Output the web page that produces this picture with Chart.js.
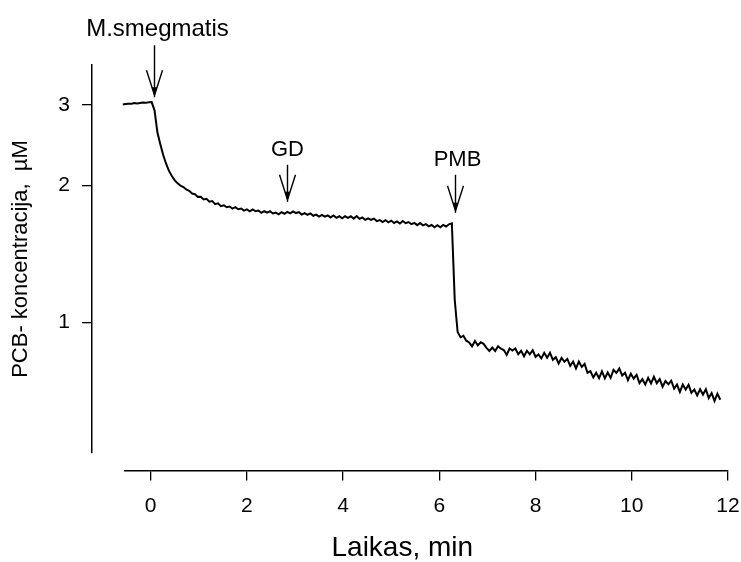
<!DOCTYPE html>
<html>
<head>
<meta charset="utf-8">
<script src="https://cdn.jsdelivr.net/npm/chart.js@4.4.0/dist/chart.umd.min.js"></script>
<style>
  html, body { margin: 0; padding: 0; background: #fff; }
</style>
</head>
<body>
<canvas id="pcbChart" width="741" height="562"></canvas>
<script>
// recording sampled every 0.06 min, first sample at -0.76 min
const startTime = -0.76;
const sampleStep = 0.06;

// PCB- concentration (uM) before M.smegmatis
const pcbBaseline = [2.995, 3.002, 3.010, 3.006, 3.015, 3.020, 3.018, 3.028, 3.024, 3.030,
  3.036, 3.032, 3.040, 3.044];

// after M.smegmatis is added (GD added at ~2.8 min)
const pcbCells = [2.92, 2.61, 2.46, 2.33, 2.23, 2.15, 2.095, 2.05, 2.02, 1.995,
  1.982, 1.958, 1.945, 1.918, 1.912, 1.886, 1.888, 1.862, 1.868, 1.840,
  1.846, 1.818, 1.826, 1.800, 1.808, 1.790,
  1.796, 1.778, 1.790, 1.772, 1.778, 1.759, 1.770, 1.754, 1.771, 1.754,
  1.760, 1.740, 1.754, 1.742, 1.754, 1.734, 1.742, 1.727, 1.746, 1.732,
  1.749, 1.736, 1.753, 1.738, 1.746, 1.725, 1.738, 1.723, 1.735, 1.714,
  1.724, 1.707, 1.722, 1.707, 1.718, 1.700, 1.717, 1.697, 1.710, 1.693,
  1.710, 1.697, 1.710, 1.690, 1.712, 1.688, 1.700, 1.679, 1.692, 1.679,
  1.690, 1.669, 1.678, 1.661, 1.676, 1.659, 1.673, 1.653, 1.666, 1.648,
  1.669, 1.651, 1.661, 1.643, 1.654, 1.635, 1.652, 1.633, 1.644, 1.625,
  1.636, 1.618, 1.634, 1.618, 1.637, 1.624, 1.642, 1.650];

// after PMB
const pcbPmb = [1.12, 0.953, 0.928,
  0.935, 0.912, 0.904, 0.886, 0.911, 0.891, 0.905, 0.898, 0.880, 0.866,
  0.881, 0.866, 0.887, 0.876, 0.870, 0.849, 0.877, 0.868, 0.877, 0.852,
  0.867, 0.843, 0.867, 0.851, 0.869, 0.841, 0.851, 0.834, 0.858, 0.837,
  0.858, 0.828, 0.839, 0.813, 0.836, 0.820, 0.832, 0.803, 0.821, 0.793,
  0.821, 0.799, 0.811, 0.776, 0.782, 0.758, 0.776, 0.755, 0.781, 0.754,
  0.777, 0.756, 0.787, 0.775, 0.793, 0.765, 0.776, 0.747, 0.772, 0.753,
  0.768, 0.736, 0.751, 0.731, 0.756, 0.735, 0.760, 0.736, 0.751, 0.723,
  0.744, 0.732, 0.745, 0.716, 0.731, 0.704, 0.731, 0.713, 0.730, 0.701,
  0.713, 0.692, 0.714, 0.695, 0.714, 0.683, 0.700, 0.673, 0.698, 0.677];

const xTicks = [0, 2, 4, 6, 8, 10, 12];
const yTicks = [1, 2, 3];

// additions marked with arrows: label, time (min), concentration at arrow tip
const markerLabels = ['M.smegmatis', 'GD', 'PMB'];
const markerTimes = [0.07, 2.83, 6.32];
const markerTips = [3.12, 1.84, 1.74];

const FONT = '"Liberation Sans", Arial, sans-serif';
const arrowStyle = { shaft: [52, 37, 38], size: [24, 22, 22], shift: [3, 0, 2] };

const trace = pcbBaseline.concat(pcbCells, pcbPmb).map((c, i) => ({
  x: +(startTime + i * sampleStep).toFixed(2),
  y: c
}));

const arrowPlugin = {
  id: 'additionArrows',
  afterDatasetsDraw(chart) {
    const { ctx, scales: { x, y } } = chart;
    ctx.save();
    ctx.strokeStyle = '#000';
    ctx.fillStyle = '#000';
    ctx.lineWidth = 1.4;
    markerLabels.forEach((label, i) => {
      const px = Math.round(x.getPixelForValue(markerTimes[i])) + 0.5;
      const tip = y.getPixelForValue(markerTips[i]);
      const top = tip - arrowStyle.shaft[i];
      ctx.beginPath();
      ctx.moveTo(px, top);
      ctx.lineTo(px, tip);
      ctx.moveTo(px - 8, tip - 27);
      ctx.lineTo(px, tip - 2);
      ctx.moveTo(px + 8, tip - 27);
      ctx.lineTo(px, tip - 2);
      ctx.stroke();
      ctx.beginPath();
      ctx.moveTo(px - 2.5, tip - 10);
      ctx.lineTo(px + 2.5, tip - 10);
      ctx.lineTo(px, tip);
      ctx.closePath();
      ctx.fill();
      ctx.font = arrowStyle.size[i] + 'px ' + FONT;
      ctx.textAlign = 'center';
      ctx.textBaseline = 'alphabetic';
      ctx.fillText(label, px + arrowStyle.shift[i], top - 9);
    });
    // x axis title, placed under the axis as in the original figure
    ctx.font = '28px ' + FONT;
    ctx.textAlign = 'center';
    ctx.textBaseline = 'middle';
    ctx.fillText('Laikas, min', x.getPixelForValue(5.23), 548);
    ctx.restore();
  }
};

Chart.defaults.color = '#000';
Chart.defaults.font.family = FONT;

new Chart(document.getElementById('pcbChart'), {
  type: 'line',
  data: {
    datasets: [{
      data: trace,
      borderColor: '#000',
      borderWidth: 2,
      pointRadius: 0,
      tension: 0,
      clip: false
    }]
  },
  options: {
    responsive: false,
    animation: false,
    layout: { padding: { left: 0, right: 13, top: 65, bottom: 0 } },
    plugins: { legend: { display: false }, tooltip: { enabled: false } },
    scales: {
      x: {
        type: 'linear',
        position: 'bottom',
        weight: 1,
        min: -0.534,
        max: 12,
        bounds: 'data',
        afterBuildTicks: s => { s.ticks = xTicks.map(v => ({ value: v })); },
        afterFit: s => { s.height = 91.5; s.paddingLeft = 0; s.paddingRight = 0; },
        grid: { drawOnChartArea: false, tickLength: 10, color: '#000', lineWidth: 1.3 },
        border: { color: '#000', width: 1.5 },
        ticks: { font: { size: 21 }, padding: 13, maxRotation: 0 }
      },
      xGap: {
        type: 'linear',
        axis: 'x',
        position: 'bottom',
        weight: 0,
        afterFit: s => { s.height = 17.5; s.paddingLeft = 0; s.paddingRight = 0; },
        grid: { display: false, drawTicks: false },
        border: { display: false },
        ticks: { display: false }
      },
      y: {
        type: 'logarithmic',
        position: 'left',
        weight: 1,
        min: 0.5173,
        max: 3.671,
        bounds: 'data',
        afterBuildTicks: s => { s.ticks = yTicks.map(v => ({ value: v })); },
        afterFit: s => { s.width = 92; s.paddingTop = 0; s.paddingBottom = 0; },
        grid: { drawOnChartArea: false, tickLength: 10, color: '#000', lineWidth: 1.3 },
        border: { color: '#000', width: 1.5 },
        ticks: { font: { size: 21 }, padding: 12, callback: v => String(v) },
        title: {
          display: true,
          text: 'PCB- koncentracija,  µM',
          font: { size: 22 },
          padding: { top: 8, bottom: 0 }
        }
      },
      yGap: {
        type: 'linear',
        axis: 'y',
        position: 'left',
        weight: 0,
        afterFit: s => { s.width = 33; s.paddingTop = 0; s.paddingBottom = 0; },
        grid: { display: false, drawTicks: false },
        border: { display: false },
        ticks: { display: false }
      }
    }
  },
  plugins: [arrowPlugin]
});
</script>
</body>
</html>
